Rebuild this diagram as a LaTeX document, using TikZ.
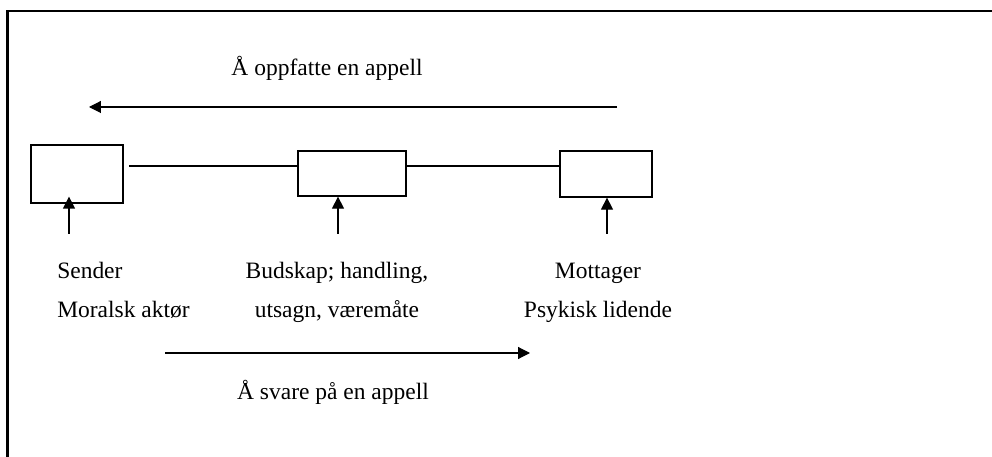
\documentclass[tikz,border=0pt]{standalone}
\usepackage{fontspec}
\setmainfont{Liberation Serif}
\usetikzlibrary{arrows.meta, positioning, calc}

\begin{document}
\begin{tikzpicture}[
  x=0.025cm, y=-0.025cm,
  cellbox/.style={draw, line width=0.9pt, inner sep=0pt},
  flowarrow/.style={-{Triangle[length=8.5pt, width=8.5pt]}, line width=0.8pt},
  lbl/.style={font=\fontsize{16.7}{28.4}\selectfont, inner sep=0pt}
]
  \useasboundingbox (0,0) rectangle (992,457);

  % frame (only top and left edge are visible)
  \draw[line width=1.5pt] (992,11) -- (7.5,11) -- (7.5,457);

  % top arrow
  \node[lbl, anchor=base] (toptext) at (327,76) {Å oppfatte en appell};
  \coordinate (topstart) at (617,107);
  \coordinate (topend) at (89,107);
  \draw[flowarrow] (topstart) -- (topend);

  % boxes
  \node[cellbox, minimum width=2.3cm, minimum height=1.45cm] (sendbox) at (77,174) {};
  \node[cellbox, minimum width=2.7cm, minimum height=1.125cm] (msgbox) at (352,173.5) {};
  \node[cellbox, minimum width=2.3cm, minimum height=1.15cm] (recvbox) at (606,174) {};

  \coordinate (chainstart) at (129,166);
  \draw[line width=0.8pt] (chainstart) -- (msgbox.west |- chainstart);
  \draw[line width=0.8pt] (msgbox.east |- chainstart) -- (recvbox.west |- chainstart);

  % arrows from below
  \coordinate (sendfoot) at (69,234);
  \coordinate (msgfoot) at (338,234);
  \coordinate (recvfoot) at (607,234);
  \draw[flowarrow, shorten >=-5pt] (sendfoot) -- (sendfoot |- sendbox.south);
  \draw[flowarrow] (msgfoot) -- (msgfoot |- msgbox.south);
  \draw[flowarrow] (recvfoot) -- (recvfoot |- recvbox.south);

  % labels (base = last line)
  \node[lbl, anchor=base west, align=left] (sendtext) at (57,318) {Sender\\Moralsk aktør};
  \node[lbl, anchor=base, align=center] (msgtext) at (337,318) {Budskap; handling,\\utsagn, væremåte};
  \node[lbl, anchor=base, align=center] (recvtext) at (598,318) {Mottager\\Psykisk lidende};

  % bottom arrow
  \coordinate (botstart) at (165,353);
  \coordinate (botend) at (530,353);
  \draw[flowarrow] (botstart) -- (botend);
  \node[lbl, anchor=base] (bottext) at (333,400) {Å svare på en appell};
\end{tikzpicture}
\end{document}
